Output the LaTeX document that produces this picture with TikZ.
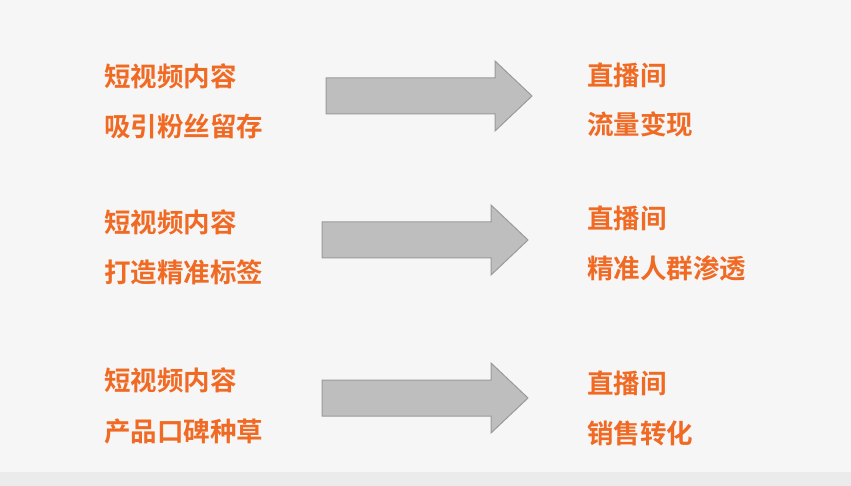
\documentclass[tikz,border=0pt]{standalone}
\usepackage{fontspec}
\newfontfamily\cjk{Noto Sans CJK SC Bold}
\definecolor{org}{HTML}{F06A24}
\definecolor{bg}{HTML}{F6F6F6}
\definecolor{afill}{HTML}{BEBEBE}
\definecolor{aline}{HTML}{9A9A9A}
\begin{document}
\begin{tikzpicture}[x=1pt,y=-1pt,
  lbl/.style={anchor=west,inner sep=0pt,text=org,font=\cjk\fontsize{26.5}{28}\selectfont},
  bigarrow/.style={fill=afill,draw=aline,line width=1pt,line join=miter}]
\fill[bg] (0,0) rectangle (851,486);
\fill[black!8] (0,472) rectangle (851,486);
\useasboundingbox (0,0) rectangle (851,486);
\foreach \i/\xa/\cy/\ya/\yb/\yc/\yd/\ra/\rb/\ba/\bb in
 {1/326/96/76/126/75/124/直播间/流量变现/短视频内容/吸引粉丝留存,
  2/322/240/222/272/218/268/直播间/精准人群渗透/短视频内容/打造精准标签,
  3/322/398/380/432/383/433/直播间/销售转化/短视频内容/产品口碑种草}{
  \node[lbl] (l\i a) at (104,\ya) {\ba};
  \node[lbl] (l\i b) at (104,\yb) {\bb};
  \node[lbl] (r\i a) at (587,\yc) {\ra};
  \node[lbl] (r\i b) at (587,\yd) {\rb};
  \draw[bigarrow] (\xa,\cy-18) -- (\xa+169,\cy-18) -- (\xa+169,\cy-35) -- (\xa+206,\cy)
     -- (\xa+169,\cy+35) -- (\xa+169,\cy+18) -- (\xa,\cy+18) -- cycle;
}
\end{tikzpicture}
\end{document}
